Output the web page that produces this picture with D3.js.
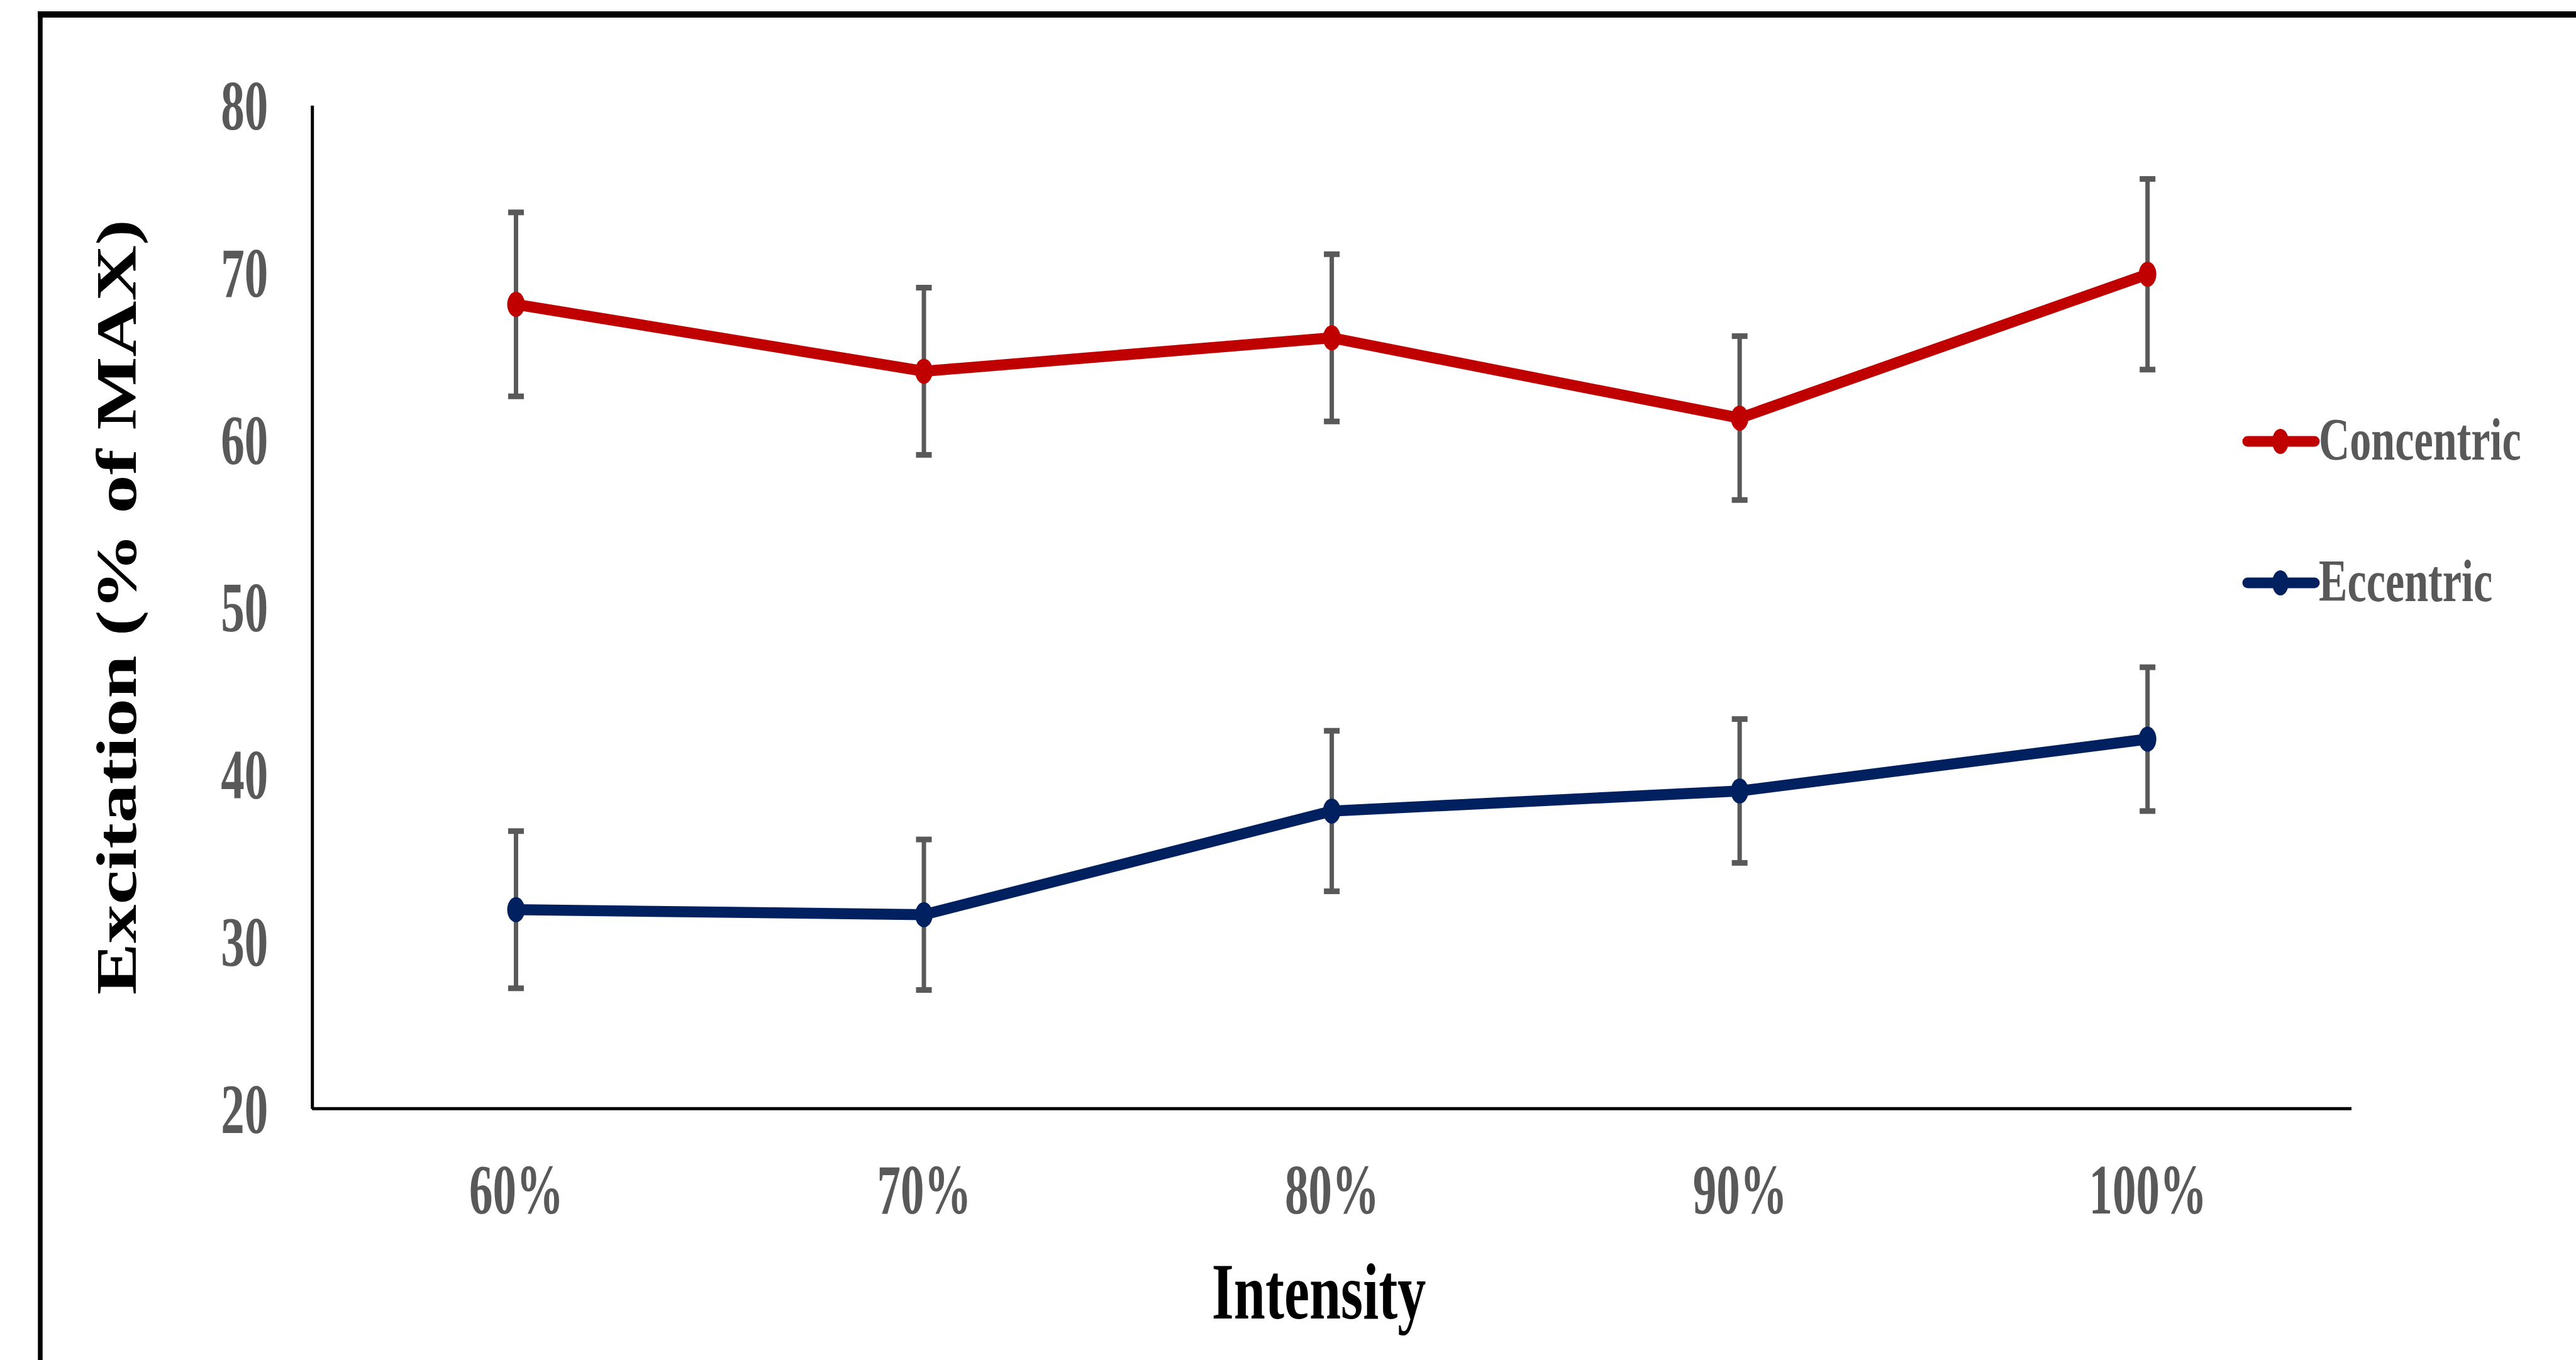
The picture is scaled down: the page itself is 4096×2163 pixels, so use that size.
<!DOCTYPE html>
<html>
<head>
<meta charset="utf-8">
<script src="https://cdn.jsdelivr.net/npm/d3@7"></script>
<style>
  body { margin: 0; background: #fff; }
  svg { display: block; }
  text { font-family: "Liberation Serif", "Times New Roman", serif; font-weight: bold; }
</style>
</head>
<body>
<div id="chart"></div>
<script>

// data
var intensities = ["60%", "70%", "80%", "90%", "100%"];
var concentricMean = [68.1, 64.1, 66.1, 61.3, 69.9];
var concentricErr = [5.5, 5.0, 5.0, 4.9, 5.7];
var eccentricMean = [31.9, 31.6, 37.8, 39.0, 42.1];
var eccentricErr = [4.7, 4.5, 4.8, 4.3, 4.3];
var yTicks = [20, 30, 40, 50, 60, 70, 80];
var seriesNames = ["Concentric", "Eccentric"];
var seriesColors = ["#C00000", "#002060"];

var width = 4096, height = 2163;
var margin = {top: 167.6, right: 4096 - 3739, bottom: 2163 - 1763.3, left: 496.2};

var series = [
    {name: seriesNames[0], color: seriesColors[0], mean: concentricMean, err: concentricErr},
    {name: seriesNames[1], color: seriesColors[1], mean: eccentricMean, err: eccentricErr}
];

var svg = d3.select("#chart").append("svg")
    .attr("width", width)
    .attr("height", height);

// outer frame (only top and left edges are visible)
svg.append("line")
    .attr("x1", 60).attr("x2", width)
    .attr("y1", 23).attr("y2", 23)
    .style("stroke", "#000").style("stroke-width", 10);
svg.append("line")
    .attr("x1", 64).attr("x2", 64)
    .attr("y1", 18).attr("y2", height)
    .style("stroke", "#000").style("stroke-width", 7.5);

var x = d3.scalePoint()
    .domain(intensities)
    .range([margin.left, width - margin.right])
    .padding(0.5);

var y = d3.scaleLinear()
    .domain([20, 80])
    .range([height - margin.bottom, margin.top]);

// y axis
var yAxis = svg.append("g")
    .attr("transform", "translate(" + margin.left + ",0)")
    .call(d3.axisLeft(y).tickValues(yTicks).tickSize(0).tickSizeOuter(0));
yAxis.select(".domain").style("stroke", "#000").style("stroke-width", 5);
yAxis.selectAll("text")
    .attr("x", 0)
    .attr("dy", "0.34em")
    .attr("transform", "translate(-70,0) scale(0.67,1)")
    .style("font-size", "112px")
    .style("fill", "#595959")
    .style("text-anchor", "end");

// x axis
var xAxis = svg.append("g")
    .attr("transform", "translate(0," + (height - margin.bottom) + ")")
    .call(d3.axisBottom(x).tickSize(0).tickSizeOuter(0));
xAxis.select(".domain")
    .attr("d", "M" + margin.left + ",0H" + (width - margin.right))
    .style("stroke", "#000").style("stroke-width", 5);
xAxis.selectAll("text")
    .attr("y", 0)
    .attr("dy", 0)
    .attr("transform", "translate(0,167) scale(0.67,1)")
    .style("font-size", "112px")
    .style("fill", "#595959");

// axis titles
svg.append("text")
    .attr("transform", "translate(216," + ((margin.top + height - margin.bottom) / 2) + ") rotate(-90) scale(1,0.74)")
    .style("text-anchor", "middle")
    .style("font-size", "123px")
    .style("fill", "#000")
    .text("Excitation (% of MAX)");

svg.append("text")
    .attr("transform", "translate(2097,2097) scale(0.71,1)")
    .style("text-anchor", "middle")
    .style("font-size", "127px")
    .style("fill", "#000")
    .text("Intensity");

var line = d3.line()
    .x(function(d, i) { return x(intensities[i]); })
    .y(function(d) { return y(d); });

var capW = 25, capH = 9;

series.forEach(function(s) {
    var g = svg.append("g");

    // error bars
    var eb = g.selectAll(".err")
        .data(s.mean)
        .enter().append("g");
    eb.append("line")
        .attr("x1", function(d, i) { return x(intensities[i]); })
        .attr("x2", function(d, i) { return x(intensities[i]); })
        .attr("y1", function(d, i) { return y(d + s.err[i]); })
        .attr("y2", function(d, i) { return y(d - s.err[i]); })
        .style("stroke", "#595959").style("stroke-width", 7);
    eb.append("rect")
        .attr("x", function(d, i) { return x(intensities[i]) - capW / 2; })
        .attr("y", function(d, i) { return y(d + s.err[i]) - capH / 2; })
        .attr("width", capW).attr("height", capH)
        .style("fill", "#595959");
    eb.append("rect")
        .attr("x", function(d, i) { return x(intensities[i]) - capW / 2; })
        .attr("y", function(d, i) { return y(d - s.err[i]) - capH / 2; })
        .attr("width", capW).attr("height", capH)
        .style("fill", "#595959");

    g.append("path")
        .datum(s.mean)
        .attr("d", line)
        .style("fill", "none")
        .style("stroke", s.color)
        .style("stroke-width", 17.5)
        .style("stroke-linejoin", "round");

    g.selectAll(".pt")
        .data(s.mean)
        .enter().append("ellipse")
        .attr("cx", function(d, i) { return x(intensities[i]); })
        .attr("cy", function(d) { return y(d); })
        .attr("rx", 14).attr("ry", 20)
        .style("fill", s.color);
});

// legend
var legendY = [702, 927];
var legend = svg.selectAll(".legend")
    .data(series)
    .enter().append("g")
    .attr("transform", function(d, i) { return "translate(0," + legendY[i] + ")"; });
legend.append("line")
    .attr("x1", 3574).attr("x2", 3680)
    .attr("y1", 0).attr("y2", 0)
    .style("stroke", function(d) { return d.color; })
    .style("stroke-width", 17)
    .style("stroke-linecap", "round");
legend.append("ellipse")
    .attr("cx", 3626).attr("cy", 0)
    .attr("rx", 13).attr("ry", 20)
    .style("fill", function(d) { return d.color; });
legend.append("text")
    .attr("transform", "translate(3687,29) scale(0.71,1)")
    .style("font-size", "96px")
    .style("fill", "#595959")
    .text(function(d) { return d.name; });

</script>
</body>
</html>
